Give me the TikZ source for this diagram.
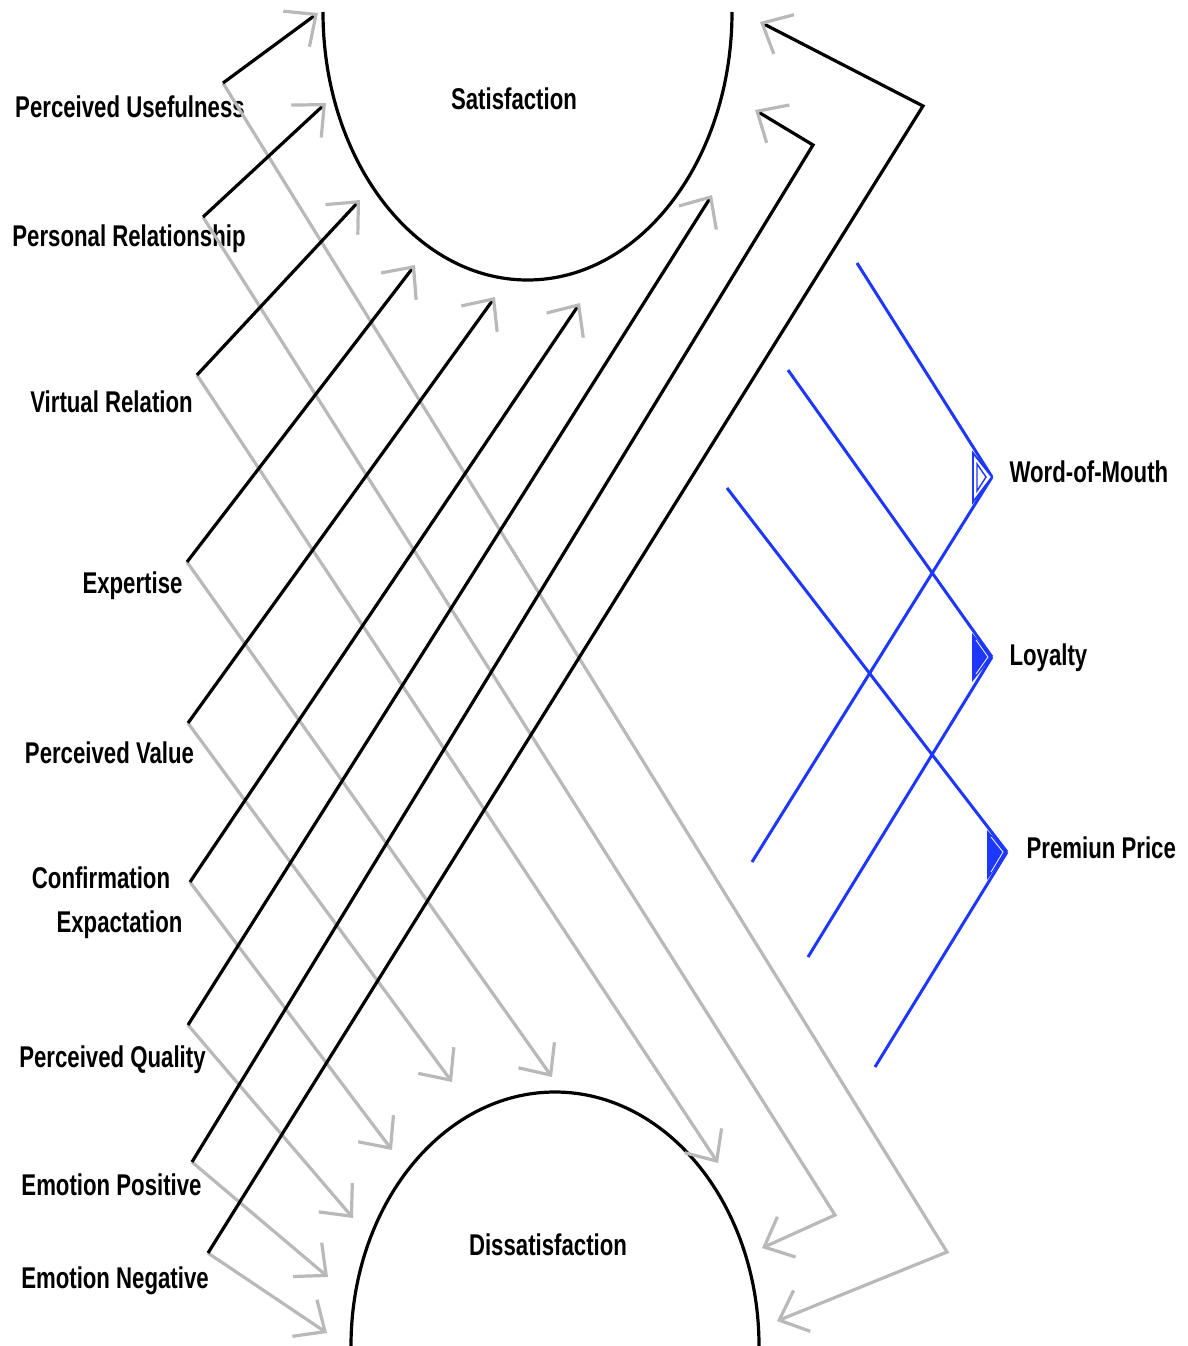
\documentclass[tikz,border=0pt]{standalone}
\usepackage{fontspec}
\setmainfont{Liberation Sans}[FakeStretch=0.74]
\usetikzlibrary{arrows.meta}

\definecolor{arrgray}{RGB}{185,185,185}
\definecolor{wblue}{RGB}{30,55,255}

\begin{document}
\begin{tikzpicture}[%
  x=1pt, y=-1pt,
  line width=3.2pt,
  >={Straight Barb[angle=84:33pt]},
  factor/.style={font=\bfseries\fontsize{30}{36}\selectfont, anchor=base, inner sep=0pt},
  outcome/.style={factor, anchor=base west},
  toS/.style={draw=black, -{Straight Barb[angle=84:33pt, color=arrgray]}},
  toD/.style={draw=arrgray, ->},
  blueline/.style={draw=wblue, line width=3pt},
]

  \fill[white] (0,0) rectangle (1187,1346);
  \useasboundingbox (0,0) rectangle (1187,1346);

  % corners beside the factors
  \coordinate (U) at (223,83);
  \coordinate (R) at (203,217);
  \coordinate (V) at (197,375);
  \coordinate (E) at (187,562);
  \coordinate (PV) at (188,723);
  \coordinate (CE) at (190,882);
  \coordinate (PQ) at (188,1025);
  \coordinate (EP) at (192,1162);
  \coordinate (EN) at (208,1253);

  % ends at Satisfaction
  \coordinate (S1) at (318,13);
  \coordinate (S2) at (326,103);
  \coordinate (S3) at (360,200);
  \coordinate (S4) at (415,265);
  \coordinate (S5) at (495,297);
  \coordinate (S6) at (580,303);
  \coordinate (S7) at (712,195);
  \coordinate (K8) at (813,145);
  \coordinate (S8) at (755,110);
  \coordinate (K9) at (923,106);
  \coordinate (S9) at (760,22);

  % ends at Dissatisfaction
  \coordinate (G1) at (947,1252);
  \coordinate (D1) at (777,1321);
  \coordinate (G2) at (835,1215);
  \coordinate (D2) at (762,1248);
  \coordinate (D3) at (718,1163);
  \coordinate (D4) at (552,1077);
  \coordinate (D5) at (452,1082);
  \coordinate (D6) at (392,1150);
  \coordinate (D7) at (353,1218);
  \coordinate (D8) at (328,1277);
  \coordinate (D9) at (327,1333);

  % the two outcomes
  \draw (323,12) arc[start angle=180, end angle=0, x radius=204.5, y radius=268];
  \draw (351,1346) arc[start angle=180, end angle=360, x radius=204, y radius=254];
  \node[factor] (sat) at (514,109) {Satisfaction};
  \node[factor] (dis) at (548,1255) {Dissatisfaction};

  % factors
  \node[factor] (usef) at (130,117) {Perceived Usefulness};
  \node[factor] (rel) at (129,246) {Personal Relationship};
  \node[factor] (virt) at (111.5,412) {Virtual Relation};
  \node[factor] (expe) at (132.5,593) {Expertise};
  \node[factor] (pval) at (109.5,763) {Perceived Value};
  \node[factor] (conf) at (101,888) {Confirmation};
  \node[factor] (expc) at (119.5,932) {Expactation};
  \node[factor] (qual) at (112.5,1067) {Perceived Quality};
  \node[factor] (emop) at (111.5,1195) {Emotion Positive};
  \node[factor] (emon) at (115,1288) {Emotion Negative};

  \draw[toD] (U) -- (G1) -- (D1);
  \draw[toD] (R) -- (G2) -- (D2);
  \draw[toD] (V) -- (D3);
  \draw[toD] (E) -- (D4);
  \draw[toD] (PV) -- (D5);
  \draw[toD] (CE) -- (D6);
  \draw[toD] (PQ) -- (D7);
  \draw[toD] (EP) -- (D8);
  \draw[toD] (EN) -- (D9);

  \draw[toS] (U) -- (S1);
  \draw[toS] (R) -- (S2);
  \draw[toS] (V) -- (S3);
  \draw[toS] (E) -- (S4);
  \draw[toS] (PV) -- (S5);
  \draw[toS] (CE) -- (S6);
  \draw[toS] (PQ) -- (S7);
  \draw[toS] (EP) -- (K8) -- (S8);
  \draw[toS] (EN) -- (K9) -- (S9);

  % consequences
  \coordinate (W) at (992,477);
  \coordinate (W1) at (857,263);
  \coordinate (W2) at (752,862);
  \coordinate (L) at (992,657);
  \coordinate (L1) at (788,370);
  \coordinate (L2) at (808,957);
  \coordinate (P) at (1007,852);
  \coordinate (P1) at (727,488);
  \coordinate (P2) at (875,1067);

  \draw[blueline] (W1) -- (W);
  \draw[blueline] (W2) -- (W);
  \draw[blueline] (L1) -- (L);
  \draw[blueline] (L2) -- (L);
  \draw[blueline] (P1) -- (P);
  \draw[blueline] (P2) -- (P);

  \draw[wblue, line width=1.8pt, fill=white] (W) -- (973,453) -- (973,502) -- cycle;
  \draw[wblue, line width=1.4pt] (986,477) -- (977,464) -- (977,491) -- cycle;
  \fill[wblue] (L) -- (972,633) -- (972,682) -- cycle;
  \draw[white, line width=0.8pt] (976,640) -- (988,657) -- (976,674);
  \fill[wblue] (P) -- (987,830) -- (987,880) -- cycle;
  \draw[white, line width=0.8pt] (991,837) -- (1003,852) -- (991,872);

  \node[outcome] (wom) at (1008,482) {Word-of-Mouth};
  \node[outcome] (loy) at (1008,665) {Loyalty};
  \node[outcome] (prem) at (1025,858) {Premiun Price};

\end{tikzpicture}
\end{document}
